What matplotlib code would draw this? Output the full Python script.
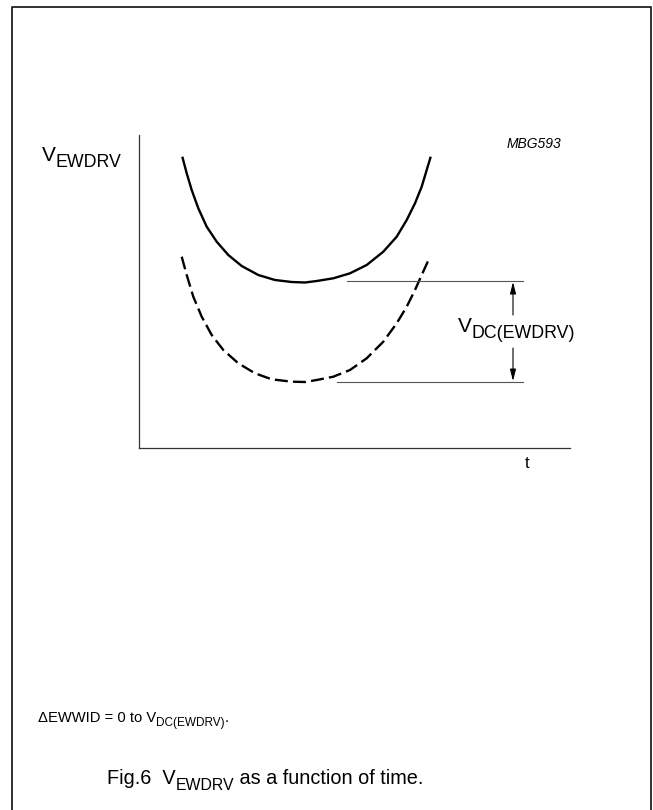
import matplotlib.pyplot as plt
from matplotlib.lines import Line2D

plt.rcParams['font.family'] = ['Liberation Sans', 'DejaVu Sans']

# curve values (arbitrary units: t across, V up)
t_solid = [43.3, 47.7, 52.7, 59.3, 67.7, 77.7, 89.3, 102.7, 119.3, 136, 152.7, 166,
           177.7, 194.3, 211, 227.7, 244.3, 257.7, 267.7, 276, 282.7, 287.7, 291.7]
v_solid = [291.3, 274.7, 258, 239.7, 221.3, 206.3, 193, 182, 173, 168, 166, 165.5,
           167, 169.7, 174.7, 183, 196.3, 211.3, 228, 244.7, 261.3, 278, 291.3]

t_dashed = [42.7, 47.7, 54.3, 62.7, 72.7, 84.3, 99.3, 116, 132.7, 152.7, 166,
            177.7, 194.3, 211, 227.7, 244.3, 257.7, 267.7, 276, 282.7, 291]
v_dashed = [191.3, 173, 151.3, 131.3, 113, 98, 84.7, 74.7, 68.7, 66.3, 66,
            68, 71.3, 78, 89.7, 106.3, 124.7, 141.3, 158, 173, 191.3]

# DC levels: minimum of each curve
v_top_level = 167
v_bottom_level = 66
top_line_t = [208, 384]
bottom_line_t = [198, 384]
arrow_t = 374

W, H = 653, 810
fig = plt.figure(figsize=(W / 100, H / 100), dpi=100)
renderer = fig.canvas.get_renderer()


def fx(x):
    return x / W


def fy(y):
    return 1 - y / H


def rich_text(x, y, parts, size, sub_scale=0.8, sub_drop=0.3, **kw):
    # x, y in pixels from top-left; y is the baseline; parts = [(text, is_sub)]
    cx = x
    for s, sub in parts:
        fs = size * sub_scale if sub else size
        yy = y + (sub_drop * size * 100 / 72 if sub else 0)
        t = fig.text(fx(cx), fy(yy), s, fontsize=fs, ha='left', va='baseline', **kw)
        cx += t.get_window_extent(renderer).width


# outer frame (open at the bottom)
frame = Line2D([fx(11.5), fx(11.5), fx(651), fx(651)], [0, fy(6.5), fy(6.5), 0],
               transform=fig.transFigure, color='#222222', lw=1.3)
fig.add_artist(frame)

ax = fig.add_axes([139 / W, 1 - 448 / H, 431 / W, 313 / H])
ax.set_xlim(0, 431)
ax.set_ylim(0, 313)
for s in ['top', 'right']:
    ax.spines[s].set_visible(False)
for s in ['left', 'bottom']:
    ax.spines[s].set_linewidth(0.9)
    ax.spines[s].set_color('#333333')
ax.set_xticks([])
ax.set_yticks([])

ax.plot(t_solid, v_solid, color='black', lw=1.7, solid_capstyle='butt', solid_joinstyle='round')
ax.plot(t_dashed, v_dashed, color='black', lw=1.7, dashes=(5.5, 2.2), dash_capstyle='butt')

ax.plot(top_line_t, [v_top_level, v_top_level], color='#555555', lw=0.8)
ax.plot(bottom_line_t, [v_bottom_level, v_bottom_level], color='#555555', lw=0.8)

arrow_kw = dict(arrowstyle='-|>,head_length=0.7,head_width=0.18', color='black', lw=0.8,
                shrinkA=0, shrinkB=0)
ax.annotate('', xy=(arrow_t, v_top_level - 1), xytext=(arrow_t, 133), arrowprops=arrow_kw)
ax.annotate('', xy=(arrow_t, v_bottom_level + 1), xytext=(arrow_t, 100), arrowprops=arrow_kw)

rich_text(458, 332, [('V', False), ('DC(EWDRV)', True)], 15, sub_scale=0.85)
rich_text(42, 161, [('V', False), ('EWDRV', True)], 15, sub_scale=0.85)

fig.text(fx(507), fy(148), 'MBG593', fontsize=10, style='italic', ha='left', va='baseline')
fig.text(fx(527), fy(468), 't', fontsize=12, ha='center', va='baseline')

rich_text(38, 722, [('\u0394EWWID = 0 to V', False), ('DC(EWDRV)', True), ('.', False)], 10.6)
rich_text(107, 784, [('Fig.6  V', False), ('EWDRV', True), (' as a function of time.', False)], 14.3)

fig.savefig('out.png', dpi=100)
